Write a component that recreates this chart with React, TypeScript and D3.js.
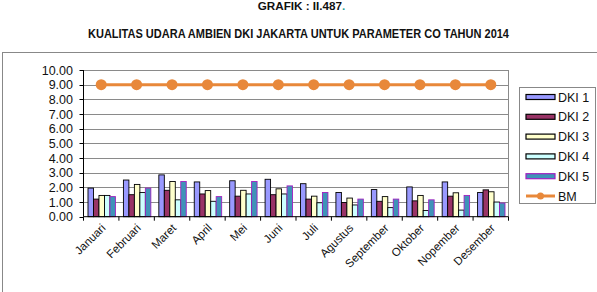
import React from "react";
import * as d3 from "d3";

const months = ["Januari","Februari","Maret","April","Mei","Juni","Juli","Agustus","September","Oktober","Nopember","Desember"];
const seriesNames = ["DKI 1","DKI 2","DKI 3","DKI 4","DKI 5"];
const dki1 = [1.95,2.5,2.85,2.37,2.45,2.55,2.25,1.65,1.85,2.03,2.37,1.65];
const dki2 = [1.2,1.5,1.8,1.55,1.4,1.5,1.2,0.97,1.05,1.08,1.4,1.83];
const dki3 = [1.45,2.2,2.4,1.78,1.8,1.9,1.4,1.27,1.37,1.45,1.63,1.7];
const dki4 = [1.45,1.65,1.15,1.05,1.55,1.55,0.95,0.8,0.62,0.42,0.45,1.0];
const dki5 = [1.37,1.95,2.4,1.37,2.4,2.1,1.65,1.2,1.2,1.15,1.45,0.93];
const bm = [9,9,9,9,9,9,9,9,9,9,9,9];
const yTicks = [0,1,2,3,4,5,6,7,8,9,10];

const fills = ["#9999FF","#993366","#FFFFCC","#CCFFFF","#3F93B8"];
const strokes = ["#000","#000","#000","#000","#A020C0"];
const bmColor = "#E8883A";
const SANS = "'Liberation Sans',Arial,sans-serif";

export default function App() {
  const W = 597, H = 292;
  const left = 83.5, right = 508.5, top = 70, bottom = 216.7;
  const x = d3.scaleBand().domain(months).range([left, right]).paddingInner(0).paddingOuter(0);
  const bw = x.bandwidth();
  const xs = d3.scaleBand().domain(seriesNames).range([4.5, bw - 3.5]).padding(0);
  const y = d3.scaleLinear().domain([0, 10]).range([bottom, top]);
  const data = [dki1, dki2, dki3, dki4, dki5];
  const line = d3.line<number>().x((_, i) => (x(months[i]) as number) + bw / 2).y(d => y(d));

  return (
    <svg width={W} height={H} style={{ position: "absolute", left: 0, top: 0, background: "#fff" }}>
      <rect x={0} y={0} width={W} height={H} fill="#fff" />
      <text x={301.5} y={10} textAnchor="middle" fontFamily={SANS} fontWeight="bold" fontSize={11.7} fill="#111">
        GRAFIK : II.487<tspan fill="#2aa198">.</tspan>
      </text>
      <text x={298.5} y={38} textAnchor="middle" fontFamily={SANS} fontWeight="bold" fontSize={13} fill="#111" textLength={421} lengthAdjust="spacingAndGlyphs">
        KUALITAS UDARA AMBIEN DKI JAKARTA UNTUK PARAMETER CO TAHUN 2014
      </text>
      <rect x={2.5} y={52.5} width={610} height={260} fill="none" stroke="#888" strokeWidth={1} />

      {yTicks.map(t => (
        <g key={t}>
          {t > 0 && <line x1={left} x2={right} y1={Math.round(y(t)) + 0.5} y2={Math.round(y(t)) + 0.5} stroke="#8a8a8a" strokeWidth={1} />}
          <line x1={left - 4} x2={left} y1={Math.round(y(t)) + 0.5} y2={Math.round(y(t)) + 0.5} stroke="#000" />
          <text x={73} y={y(t) + 4.5} textAnchor="end" fontFamily={SANS} fontSize={12.5} fill="#111">{t.toFixed(2)}</text>
        </g>
      ))}
      <line x1={right} x2={right} y1={y(10)} y2={bottom} stroke="#8a8a8a" />

      {data.map((vals, si) => (
        <g key={si}>
          {vals.map((v, i) => (
            <rect key={i}
              x={(x(months[i]) as number) + (xs(seriesNames[si]) as number)}
              y={y(v)}
              width={xs.bandwidth()}
              height={bottom - y(v)}
              fill={fills[si]} stroke={strokes[si]} strokeWidth={0.9} />
          ))}
        </g>
      ))}

      <line x1={left} x2={left} y1={top} y2={bottom} stroke="#000" />
      <line x1={left} x2={right} y1={bottom} y2={bottom} stroke="#000" />
      {months.concat(["end"]).map((m, i) => (
        <line key={i} x1={left + i * bw} x2={left + i * bw} y1={bottom} y2={bottom + 4} stroke="#000" />
      ))}

      <path d={line(bm) || ""} fill="none" stroke={bmColor} strokeWidth={3} />
      {bm.map((v, i) => (
        <circle key={i} cx={(x(months[i]) as number) + bw / 2} cy={y(v)} r={5.5} fill={bmColor} />
      ))}

      {months.map(m => {
        const cx = (x(m) as number) + bw / 2 + 5;
        const cy = bottom + 12;
        return (
          <text key={m} transform={`translate(${cx},${cy}) rotate(-45)`} textAnchor="end" fontFamily={SANS} fontSize={11.5} fill="#111">{m}</text>
        );
      })}

      <rect x={519.5} y={87.5} width={76} height={116} fill="#fff" stroke="#888" />
      {seriesNames.map((s, i) => {
        const cy = 97 + i * 19.8;
        return (
          <g key={s}>
            <rect x={526} y={cy - 2.5} width={29} height={5} fill={fills[i]} stroke={strokes[i]} strokeWidth={1.2} />
            <text x={558} y={cy + 4.5} fontFamily={SANS} fontSize={12.5} fill="#111">{s}</text>
          </g>
        );
      })}
      <g>
        <line x1={526} x2={555} y1={196} y2={196} stroke={bmColor} strokeWidth={3} />
        <circle cx={540.5} cy={196} r={3.5} fill={bmColor} />
        <text x={558} y={200.5} fontFamily={SANS} fontSize={12.5} fill="#111">BM</text>
      </g>
    </svg>
  );
}
